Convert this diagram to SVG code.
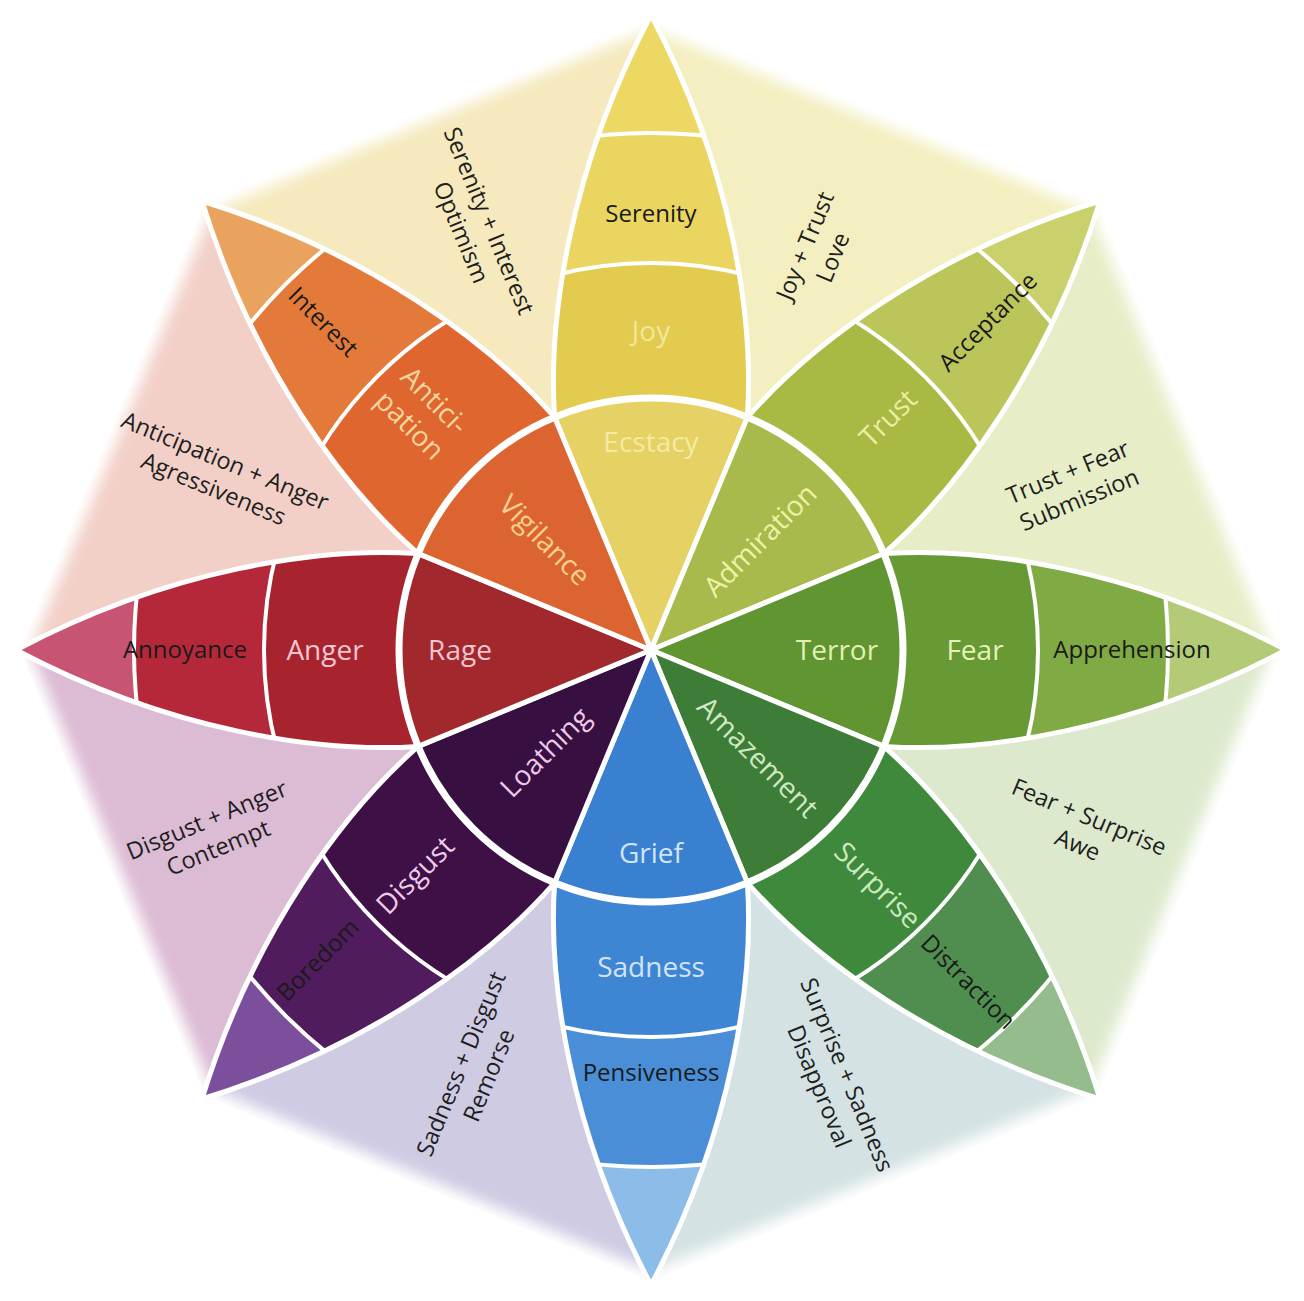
<svg xmlns="http://www.w3.org/2000/svg" xmlns:xlink="http://www.w3.org/1999/xlink" width="1304" height="1301" viewBox="0 0 1304 1301">
<style>
text{font-family:"Open Sans","Noto Sans","Liberation Sans",sans-serif;text-anchor:middle}
.dy{font-size:23.5px;fill:#1e1e1e}
.bk{font-size:24px;fill:#1a1a1a}
.lt{font-size:28px}
.ring{stroke:#fff;stroke-width:4}
.dyad{stroke:#fff;stroke-width:8;stroke-linejoin:round}
</style>
<defs>
<path id="petalPath" d="M0,0 L96.4,-232.8 C103,-330 82,-480 0,-635 C-82,-480 -103,-330 -96.4,-232.8 Z"/>
<clipPath id="petalClip"><use href="#petalPath"/></clipPath>
<filter id="glow" x="-5%" y="-5%" width="110%" height="110%"><feGaussianBlur stdDeviation="7"/></filter>
</defs>
<rect width="1304" height="1301" fill="#fff"/>

<g id="dyads">
<polygon class="dyad" points="651,650 651,15 1100,201" fill="#f3efc0"/>
<polygon class="dyad" points="651,650 1100,201 1286,650" fill="#e7edc7"/>
<polygon class="dyad" points="651,650 1286,650 1100,1099" fill="#dde9cd"/>
<polygon class="dyad" points="651,650 1100,1099 651,1285" fill="#d4e2e3"/>
<polygon class="dyad" points="651,650 651,1285 202,1099" fill="#cecbe3"/>
<polygon class="dyad" points="651,650 202,1099 16,650" fill="#dcbbd4"/>
<polygon class="dyad" points="651,650 16,650 202,201" fill="#f2d0c8"/>
<polygon class="dyad" points="651,650 202,201 651,15" fill="#f5e9bd"/>
<polygon points="651,15 1100,201 1286,650 1100,1099 651,1285 202,1099 16,650 202,201" fill="none" stroke="#fff" stroke-width="26" filter="url(#glow)"/>
</g>

<g id="petal-joy" transform="translate(651 650)">
<g clip-path="url(#petalClip)">
<circle r="640" fill="#ecd862"/><circle class="ring" r="517" fill="#e9d560"/><circle class="ring" r="387" fill="#e3cb4f"/><circle r="252" fill="#e6d164"/>
</g><use href="#petalPath" fill="none" stroke="#fff" stroke-width="5"/>
</g>
<g id="petal-trust" transform="translate(651 650) rotate(45)">
<g clip-path="url(#petalClip)">
<circle r="640" fill="#cad06c"/><circle class="ring" r="517" fill="#bcc55a"/><circle class="ring" r="387" fill="#a9b944"/><circle r="252" fill="#a8ba4b"/>
</g><use href="#petalPath" fill="none" stroke="#fff" stroke-width="5"/>
</g>
<g id="petal-fear" transform="translate(651 650) rotate(90)">
<g clip-path="url(#petalClip)">
<circle r="640" fill="#b3ca76"/><circle class="ring" r="517" fill="#80aa44"/><circle class="ring" r="387" fill="#679935"/><circle r="252" fill="#609531"/>
</g><use href="#petalPath" fill="none" stroke="#fff" stroke-width="5"/>
</g>
<g id="petal-surprise" transform="translate(651 650) rotate(135)">
<g clip-path="url(#petalClip)">
<circle r="640" fill="#95bc8c"/><circle class="ring" r="517" fill="#4f8e4e"/><circle class="ring" r="387" fill="#3f893c"/><circle r="252" fill="#3d7d37"/>
</g><use href="#petalPath" fill="none" stroke="#fff" stroke-width="5"/>
</g>
<g id="petal-sadness" transform="translate(651 650) rotate(180)">
<g clip-path="url(#petalClip)">
<circle r="640" fill="#8cbce8"/><circle class="ring" r="517" fill="#4a8ed7"/><circle class="ring" r="387" fill="#3e86d4"/><circle r="252" fill="#3a80d0"/>
</g><use href="#petalPath" fill="none" stroke="#fff" stroke-width="5"/>
</g>
<g id="petal-disgust" transform="translate(651 650) rotate(225)">
<g clip-path="url(#petalClip)">
<circle r="640" fill="#7b4f9c"/><circle class="ring" r="517" fill="#501c5e"/><circle class="ring" r="387" fill="#3f1046"/><circle r="252" fill="#370f40"/>
</g><use href="#petalPath" fill="none" stroke="#fff" stroke-width="5"/>
</g>
<g id="petal-anger" transform="translate(651 650) rotate(270)">
<g clip-path="url(#petalClip)">
<circle r="640" fill="#c85474"/><circle class="ring" r="517" fill="#b5283a"/><circle class="ring" r="387" fill="#a7242e"/><circle r="252" fill="#a1282d"/>
</g><use href="#petalPath" fill="none" stroke="#fff" stroke-width="5"/>
</g>
<g id="petal-anticipation" transform="translate(651 650) rotate(315)">
<g clip-path="url(#petalClip)">
<circle r="640" fill="#eaa35f"/><circle class="ring" r="517" fill="#e47a3a"/><circle class="ring" r="387" fill="#df662f"/><circle r="252" fill="#dc6431"/>
</g><use href="#petalPath" fill="none" stroke="#fff" stroke-width="5"/>
</g>
<g id="core"><circle cx="651" cy="650" r="252" fill="none" stroke="#fff" stroke-width="7"/></g>

<g id="labels">
<text class="bk" x="651" y="222">Serenity</text>
<text class="lt" x="651" y="341" fill="#f2e79a">Joy</text>
<text class="lt" x="651" y="452" fill="#f4eba3">Ecstacy</text>

<text class="bk" transform="translate(988 322) rotate(-45)" y="8">Acceptance</text>
<text class="lt" transform="translate(888 418) rotate(-45)" y="10" fill="#e9efa2">Trust</text>
<text class="lt" transform="translate(760 540) rotate(-45)" y="10" fill="#eef2a8">Admiration</text>

<text class="lt" x="837" y="660" fill="#e3f0b2">Terror</text>
<text class="lt" x="975" y="660" fill="#e6f2b8">Fear</text>
<text class="bk" x="1132" y="658">Apprehension</text>

<text class="lt" transform="translate(758 757) rotate(45)" y="10" fill="#cfe9c2">Amazement</text>
<text class="lt" transform="translate(878 885) rotate(45)" y="10" fill="#cce9c0">Surprise</text>
<text class="bk" transform="translate(968 982) rotate(45)" y="8">Distraction</text>

<text class="lt" x="651" y="863" fill="#d2e4f8">Grief</text>
<text class="lt" x="651" y="977" fill="#d2e4f8">Sadness</text>
<text class="bk" x="651" y="1081">Pensiveness</text>

<text class="lt" transform="translate(545 752) rotate(-45)" y="10" fill="#edc9e8">Loathing</text>
<text class="lt" transform="translate(415 875) rotate(-45)" y="10" fill="#eccbea">Disgust</text>
<text class="bk" transform="translate(318 960) rotate(-45)" y="8">Boredom</text>

<text class="lt" x="460" y="660" fill="#f3c5d0">Rage</text>
<text class="lt" x="325" y="660" fill="#f3c5d0">Anger</text>
<text class="bk" x="185" y="658">Annoyance</text>

<text class="lt" transform="translate(545 540) rotate(45)" y="10" fill="#f6d08f">Vigilance</text>
<g transform="translate(422 413) rotate(45)" fill="#f6d59c">
<text class="lt" y="-8">Antici-</text>
<text class="lt" y="27">pation</text>
</g>
<text class="bk" transform="translate(323 322) rotate(45)" y="8">Interest</text>
</g>

<g id="dyad-labels">
<g transform="translate(474 227) rotate(67.5)"><text class="dy" y="-8">Serenity + Interest</text><text class="dy" y="22">Optimism</text></g>
<g transform="translate(820 252) rotate(-67.5)"><text class="dy" y="-8">Joy + Trust</text><text class="dy" y="22">Love</text></g>
<g transform="translate(1074 487) rotate(-22.5)"><text class="dy" y="-8">Trust + Fear</text><text class="dy" y="22">Submission</text></g>
<g transform="translate(1083 832) rotate(22.5)"><text class="dy" y="-8">Fear + Surprise</text><text class="dy" y="22">Awe</text></g>
<g transform="translate(832 1081) rotate(67.5)"><text class="dy" y="-8">Surprise + Sadness</text><text class="dy" y="22">Disapproval</text></g>
<g transform="translate(476 1070) rotate(-67.5)"><text class="dy" y="-8">Sadness + Disgust</text><text class="dy" y="22">Remorse</text></g>
<g transform="translate(213 835) rotate(-22.5)"><text class="dy" y="-8">Disgust + Anger</text><text class="dy" y="22">Contempt</text></g>
<g transform="translate(219 476) rotate(22.5)"><text class="dy" y="-8">Anticipation + Anger</text><text class="dy" y="22">Agressiveness</text></g>
</g>
</svg>
